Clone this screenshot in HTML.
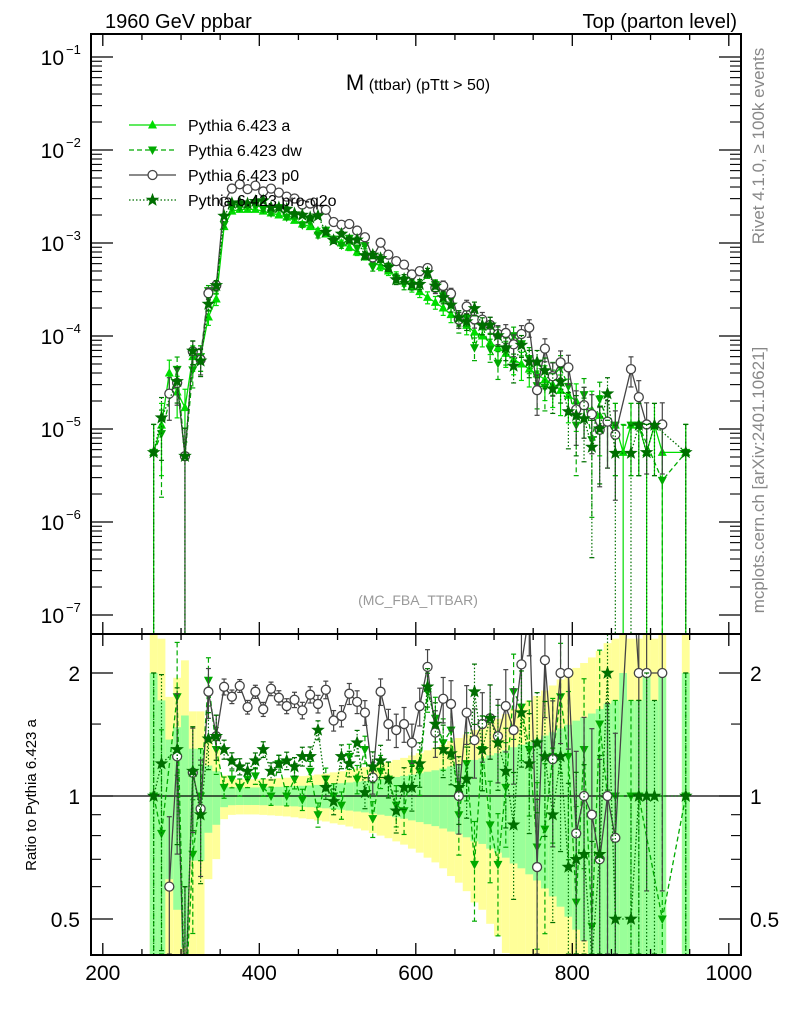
<!DOCTYPE html>
<html><head><meta charset="utf-8"><style>
html,body{margin:0;padding:0;background:#fff;overflow:hidden;width:786px;height:1024px}
svg{display:block;font-family:"Liberation Sans",sans-serif}
</style></head><body>
<svg id="chart" width="786" height="1024" viewBox="0 0 786 1024" xmlns="http://www.w3.org/2000/svg">
<defs>
<clipPath id="clipMain"><rect x="91" y="34" width="650" height="600"/></clipPath>
<clipPath id="clipRatio"><rect x="91" y="634" width="650" height="321"/></clipPath>
</defs>
<g id="bands" clip-path="url(#clipRatio)"></g>
<g id="main" clip-path="url(#clipMain)"></g>
<g id="ratio" clip-path="url(#clipRatio)"></g>
<g id="axes"></g>
<text x="105" y="28" font-size="20">1960 GeV ppbar</text>
<text x="737" y="28" font-size="20" text-anchor="end">Top (parton level)</text>
<text x="418" y="90" font-size="22" text-anchor="middle">M<tspan font-size="16"> (ttbar) (pTtt &gt; 50)</tspan></text>
<text x="418" y="605" font-size="14" fill="#999" text-anchor="middle">(MC_FBA_TTBAR)</text>
<text transform="translate(764,146) rotate(-90)" font-size="17" fill="#888" text-anchor="middle">Rivet 4.1.0, ≥ 100k events</text>
<text transform="translate(764,480) rotate(-90)" font-size="17" fill="#888" text-anchor="middle">mcplots.cern.ch [arXiv:2401.10621]</text>
<text transform="translate(36,795) rotate(-90)" font-size="15" text-anchor="middle">Ratio to Pythia 6.423 a</text>
<g id="legend"></g>
</svg>
<script>
const bins=[255,265,275,285,295,305,315,325,335,345,355,365,375,385,395,405,415,425,435,445,455,465,475,485,495,505,515,525,535,545,555,565,575,585,595,605,615,625,635,645,655,665,675,685,695,705,715,725,735,745,755,765,775,785,795,805,815,825,835,845,855,865,875,885,895,905,915,925,935,945];
// Pythia 6.423 a, in units of 1e-6
const aVals=[0,5.6,11,40,25,17,60,60,160,250,1500,2200,2300,2300,2300,2200,2100,2000,1900,1750,1600,1500,1350,1250,1100,1000,900,800,720,630,560,500,440,390,340,300,260,230,200,170,150,130,110,100,85,75,65,56,50,44,39,34,30,26,23,20,18,16,14,12,11,5.6,11,11,5.6,11,5.6,0,0,5.6];
// ratios to a
const p0Ratio=[null,null,null,0.6,1.25,0.3,1.14,0.93,1.8,1.4,1.85,1.75,1.86,1.65,1.8,1.63,1.83,1.74,1.66,1.72,1.62,1.77,1.68,1.82,1.53,1.57,1.78,1.7,1.6,1.11,1.8,1.5,1.45,1.5,1.35,1.66,2.07,1.43,1.73,1.68,1.0,1.6,1.37,1.5,1.55,1.4,1.66,1.45,2.1,2.8,0.67,2.15,1.23,2.0,2.0,0.81,1.0,0.9,0.7,1.0,0.79,null,4,2,2,null,2,null,null,null];
const dwRatio=[null,1.0,0.81,null,1.75,0.3,0.72,1.0,1.92,1.3,1.05,1.1,1.05,1.1,1.12,1.05,1.0,1.2,1.0,1.1,0.98,1.15,0.9,1.1,1.0,0.95,1.25,1.1,1.3,0.88,1.15,1.1,0.95,0.92,1.2,1.15,1.8,1.55,1.35,1.45,0.9,1.2,0.68,1.3,0.85,0.68,1.05,1.8,1.65,1.3,0.75,0.83,1.25,1.75,1.25,0.55,1.3,0.48,1.5,1.0,1.0,null,1.0,1.0,null,null,0.5,null,null,1.0];
const q2oRatio=[null,1.0,1.2,null,1.3,0.3,1.15,0.9,1.38,1.4,1.3,1.22,1.18,1.15,1.22,1.3,1.15,1.2,1.22,1.18,1.25,1.25,1.45,1.05,0.97,1.25,1.2,1.35,1.02,1.18,1.22,1.1,0.92,1.05,1.05,1.2,1.85,1.5,1.3,1.27,1.05,1.1,1.8,1.3,1.55,1.35,1.15,0.85,1.6,1.2,1.35,1.25,0.9,1.25,0.67,0.7,0.72,0.4,0.72,2.0,0.5,null,0.5,1,1,1,null,null,null,1];
const UNIT=1e-6, EV=5.6e-6;
const xTicksMajor=[200,400,600,800,1000];
const yTickExps=[-1,-2,-3,-4,-5,-6,-7];
const rTicks=[0.5,1,2];

const NS="http://www.w3.org/2000/svg";
function X(m){return 102.8+(m-200)*0.7825;}
function Y(v){return 57-93*(1+Math.log10(v));}
function R(r){return 796-408.6*Math.log10(r);}
function el(tag,attrs,parent){const e=document.createElementNS(NS,tag);for(const k in attrs)e.setAttribute(k,attrs[k]);parent.appendChild(e);return e;}
const gMain=document.getElementById('main'),gRatio=document.getElementById('ratio'),gBands=document.getElementById('bands'),gAxes=document.getElementById('axes'),gLeg=document.getElementById('legend');

bins.forEach((m,i)=>{const v=aVals[i];if(!v)return;const s=1/Math.sqrt(v*UNIT/EV);
 const x0=X(m-5),w=X(m+5)-x0;
 const yl=Math.max(1-2*s,0.3),yh=1+2*s;
 const b1=el('rect',{x:x0,y:R(yh),width:w,height:R(yl)-R(yh),fill:'#ffff99'},gBands);
 
 
 const gl=Math.max(1-s,0.3),gh=1+s;
 const b2=el('rect',{x:x0,y:R(gh),width:w,height:R(gl)-R(gh),fill:'#99ff99'},gBands);
 
 
});
const ref=el('line',{x1:91,x2:741,y1:R(1),y2:R(1),stroke:'#000','stroke-width':1.2},gRatio);



function starPath(cx,cy,r){let d='';for(let k=0;k<10;k++){const rr=k%2?r*0.42:r;const a=-Math.PI/2+k*Math.PI/5;d+=(k?'L':'M')+(cx+rr*Math.cos(a)).toFixed(1)+','+(cy+rr*Math.sin(a)).toFixed(1);}return d+'Z';}
function marker(g,type,cx,cy,col){let e;
 if(type==='up')e=el('path',{d:`M${cx},${cy-5}L${cx+4.5},${cy+3.5}L${cx-4.5},${cy+3.5}Z`,fill:col},g);
 else if(type==='down')e=el('path',{d:`M${cx},${cy+5}L${cx+4.5},${cy-3.5}L${cx-4.5},${cy-3.5}Z`,fill:col},g);
 else if(type==='circle')e=el('circle',{cx:cx,cy:cy,r:4.5,fill:'#fff',stroke:col,'stroke-width':1.3},g);
 else e=el('path',{d:starPath(cx,cy,6),fill:col,stroke:col,'stroke-width':0.8},g);
 return e;}

const series=[
 {name:'a',col:'#00dd00',dash:'',mk:'up',ratio:null},
 {name:'dw',col:'#00aa00',dash:'5,3',mk:'down',ratio:dwRatio},
 {name:'p0',col:'#444444',dash:'',mk:'circle',ratio:p0Ratio},
 {name:'q2o',col:'#006f00',dash:'1.5,2',mk:'star',ratio:q2oRatio}];

series.forEach(s=>{
 const gm=el('g',{},gMain);
 
 
 const gr=el('g',{},gRatio);
 
 
 const pts=[],rpts=[];
 bins.forEach((m,i)=>{const a=aVals[i];let v,r;
  if(s.ratio===null){if(!a)return;v=a*UNIT;r=1;}
  else{r=s.ratio[i];if(r===null||!a)return;v=a*UNIT*r;}
  const sig=1/Math.sqrt(Math.max(v/EV,1));const x=X(m);
  pts.push([x,Y(v),v,sig]);
  if(s.ratio!==null)rpts.push([x,R(r),r,sig]);
 });
 function draw(g,P,yf,isRatio,bottom){
  if(P.length>1)el('polyline',{points:P.map(p=>p[0].toFixed(1)+','+p[1].toFixed(1)).join(' '),fill:'none',stroke:s.col,'stroke-width':1.3,'stroke-dasharray':s.dash},g);
  P.forEach(p=>{const lo=p[2]*(1-p[3]),hi=p[2]*(1+p[3]);
   const ylo=lo>0?Math.min(yf(lo),bottom):bottom,yhi=yf(hi);
   el('line',{x1:p[0],x2:p[0],y1:yhi,y2:ylo,stroke:s.col,'stroke-width':1.2,'stroke-dasharray':s.dash},g);
   el('line',{x1:p[0]-2.5,x2:p[0]+2.5,y1:yhi,y2:yhi,stroke:s.col,'stroke-width':1.2},g);
   if(lo>0)el('line',{x1:p[0]-2.5,x2:p[0]+2.5,y1:ylo,y2:ylo,stroke:s.col,'stroke-width':1.2},g);
   const mk=marker(g,s.mk,p[0],p[1],s.col);
   
   
  });}
 draw(gm,pts,Y,false,633);
 draw(gr,rpts,R,true,954);
});

[[34,634],[634,955]].forEach(([t,b])=>{el('rect',{x:91,y:t,width:650,height:b-t,fill:'none',stroke:'#000','stroke-width':2},gAxes);
 for(let m=200;m<=1000;m+=50){const maj=m%200===0,L=maj?12:6,x=X(m);
  el('line',{x1:x,x2:x,y1:b,y2:b-L,stroke:'#000','stroke-width':1.3},gAxes);
  el('line',{x1:x,x2:x,y1:t,y2:t+L,stroke:'#000','stroke-width':1.3},gAxes);}});
xTicksMajor.forEach(m=>{const t=el('text',{x:X(m),y:980,'font-size':21,'text-anchor':'middle'},gAxes);t.textContent=m;
 
 });
yTickExps.forEach(e=>{const y=Y(Math.pow(10,e));
 [[91,1],[741,-1]].forEach(([x0,d])=>{el('line',{x1:x0,x2:x0+d*22,y1:y,y2:y,stroke:'#000','stroke-width':1.3},gAxes);
  for(let k=2;k<=9;k++){const yy=Y(k*Math.pow(10,e));if(yy<34)continue;el('line',{x1:x0,x2:x0+d*11,y1:yy,y2:yy,stroke:'#000','stroke-width':1.1},gAxes);}});
 const t=el('text',{x:64,y:y+8,'font-size':21,'text-anchor':'end'},gAxes);t.textContent='10';
 
 
 const sp=el('text',{x:66,y:y-3,'font-size':13},gAxes);sp.textContent='−'+(-e);});
[0.4,0.6,0.7,0.8,0.9,1.5,3].forEach(r=>{const y=R(r);if(y<634||y>955)return;
 el('line',{x1:91,x2:101,y1:y,y2:y,stroke:'#000','stroke-width':1.1},gAxes);el('line',{x1:741,x2:731,y1:y,y2:y,stroke:'#000','stroke-width':1.1},gAxes);});
rTicks.forEach(r=>{const y=R(r);
 el('line',{x1:91,x2:113,y1:y,y2:y,stroke:'#000','stroke-width':1.3},gAxes);el('line',{x1:741,x2:719,y1:y,y2:y,stroke:'#000','stroke-width':1.3},gAxes);
 const t=el('text',{x:80,y:y+8,'font-size':21,'text-anchor':'end'},gAxes);t.textContent=r;
 
 
 const t2=el('text',{x:750,y:y+8,'font-size':21},gAxes);t2.textContent=r;
 
 });

const legNames=['Pythia 6.423 a','Pythia 6.423 dw','Pythia 6.423 p0','Pythia 6.423 pro-q2o'];
series.forEach((s,i)=>{const y=125+i*25;const g=el('g',{},gLeg);
 
 
 el('line',{x1:129,x2:176,y1:y,y2:y,stroke:s.col,'stroke-width':1.3,'stroke-dasharray':s.dash},g);
 marker(g,s.mk,152.5,y,s.col);
 const t=el('text',{x:188,y:y+6,'font-size':16},g);t.textContent=legNames[i];});
</script>
</body></html>
